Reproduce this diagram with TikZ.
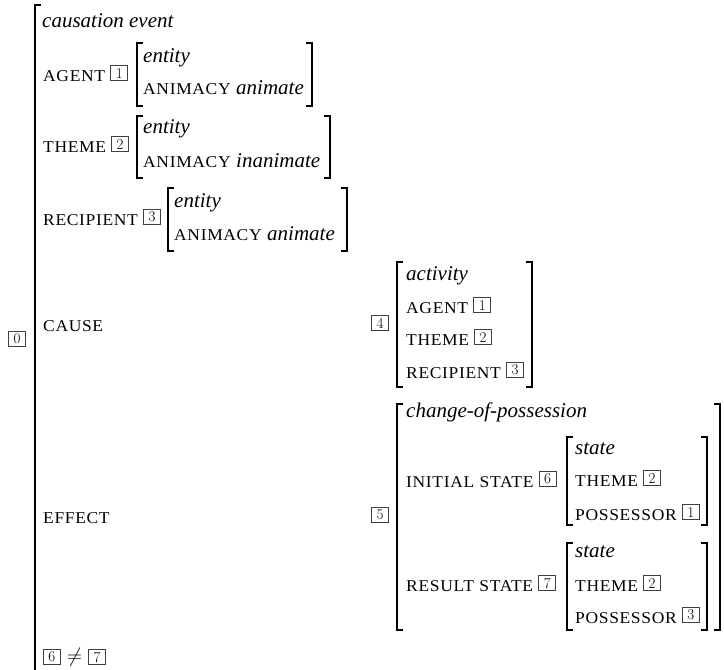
\documentclass[tikz,border=0pt]{standalone}
\usepackage{fontspec}
\newfontfamily\tmfont{Liberation Serif}
\newfontfamily\scfont[FakeStretch=1.06,LetterSpace=4]{Liberation Serif}
\newcommand{\tyf}{\tmfont\itshape\fontsize{21}{24}\selectfont}
\newcommand{\scf}{\scfont\fontsize{16.5}{19}\selectfont}
\newcommand{\itx}[1]{{\tyf #1}}
\newcommand{\wsp}{\hspace{5.5pt}}
\tikzset{
  br/.style={line width=1.5pt, line cap=butt, line join=miter},
  sc/.style={anchor=base west, inner sep=0pt, font=\scf},
  ty/.style={anchor=base west, inner sep=0pt, font=\tyf},
  tag/.style={draw=black!75, line width=0.8pt, inner sep=0pt, minimum width=17pt, minimum height=15pt, font=\rmfamily\fontsize{15}{15}\selectfont},
  tagr/.style={tag, anchor=south west, xshift=5pt, yshift=0pt}
}
\begin{document}
\begin{tikzpicture}[x=1pt,y=-1pt]
\useasboundingbox (0,0) rectangle (724,670);
% outer
\node[tag] (t0) at (17,339) {0};
\draw[br] (41,5) -- (35,5) -- (35,672);
\node[ty] (ce) at (42,27) {causation event};
% AGENT
\node[sc] (ag) at (43,81) {AGENT};
\node[tagr] (ag1) at (ag.base east) {1};
\draw[br] (143,43) -- (137,43) -- (137,106) -- (143,106);
\draw[br] (306,43) -- (312,43) -- (312,106) -- (306,106);
\node[ty] (agE) at (143,62) {entity};
\node[sc] (agA) at (143,94) {ANIMACY\wsp\itx{animate}};
% THEME
\node[sc] (th) at (43,152) {THEME};
\node[tagr] (th2) at (th.base east) {2};
\draw[br] (143,116) -- (137,116) -- (137,178) -- (143,178);
\draw[br] (324,116) -- (330,116) -- (330,178) -- (324,178);
\node[ty] (thE) at (143,133) {entity};
\node[sc] (thA) at (143,167) {ANIMACY\wsp\itx{inanimate}};
% RECIPIENT
\node[sc] (re) at (43,225) {RECIPIENT};
\node[tagr] (re3) at (re.base east) {3};
\draw[br] (174,188) -- (168,188) -- (168,251) -- (174,251);
\draw[br] (341,188) -- (347,188) -- (347,251) -- (341,251);
\node[ty] (reE) at (174,207) {entity};
\node[sc] (reA) at (174,240) {ANIMACY\wsp\itx{animate}};
% CAUSE
\node[sc] (ca) at (43,331) {CAUSE};
\node[tag] (t4) at (380,323) {4};
\draw[br] (403,262) -- (397,262) -- (397,387) -- (403,387);
\draw[br] (526,262) -- (532,262) -- (532,387) -- (526,387);
\node[ty] (act) at (406,280) {activity};
\node[sc] (caA) at (406,313) {AGENT};
\node[tagr] (caA1) at (caA.base east) {1};
\node[sc] (caT) at (406,345) {THEME};
\node[tagr] (caT2) at (caT.base east) {2};
\node[sc] (caR) at (406,378) {RECIPIENT};
\node[tagr] (caR3) at (caR.base east) {3};
% EFFECT
\node[sc] (ef) at (43,523) {EFFECT};
\node[tag] (t5) at (380,515) {5};
\draw[br] (403,404) -- (397,404) -- (397,630) -- (403,630);
\draw[br] (714,404) -- (720,404) -- (720,630) -- (714,630);
\node[ty] (cop) at (406,417) {change-of-possession};
\node[sc] (is) at (406,487) {INITIAL\wsp STATE};
\node[tagr] (is6) at (is.base east) {6};
\draw[br] (573,437) -- (567,437) -- (567,525) -- (573,525);
\draw[br] (701,437) -- (707,437) -- (707,525) -- (701,525);
\node[ty] (isS) at (575,454) {state};
\node[sc] (isT) at (575,486) {THEME};
\node[tagr] (isT2) at (isT.base east) {2};
\node[sc] (isP) at (575,520) {POSSESSOR};
\node[tagr] (isP1) at (isP.base east) {1};
\node[sc] (rs) at (406,591) {RESULT\wsp STATE};
\node[tagr] (rs7) at (rs.base east) {7};
\draw[br] (573,543) -- (567,543) -- (567,630) -- (573,630);
\draw[br] (701,543) -- (707,543) -- (707,630) -- (701,630);
\node[ty] (rsS) at (575,557) {state};
\node[sc] (rsT) at (575,591) {THEME};
\node[tagr] (rsT2) at (rsT.base east) {2};
\node[sc] (rsP) at (575,623) {POSSESSOR};
\node[tagr] (rsP3) at (rsP.base east) {3};
% constraint
\node[tag, anchor=south west] (c6) at (43,665) {6};
\node[inner sep=0pt, anchor=west, font=\fontsize{20}{20}\selectfont] (neq) at ([xshift=6pt]c6.east) {$\neq$};
\node[tag, anchor=west] (c7) at ([xshift=6pt]neq.east) {7};
\end{tikzpicture}
\end{document}
